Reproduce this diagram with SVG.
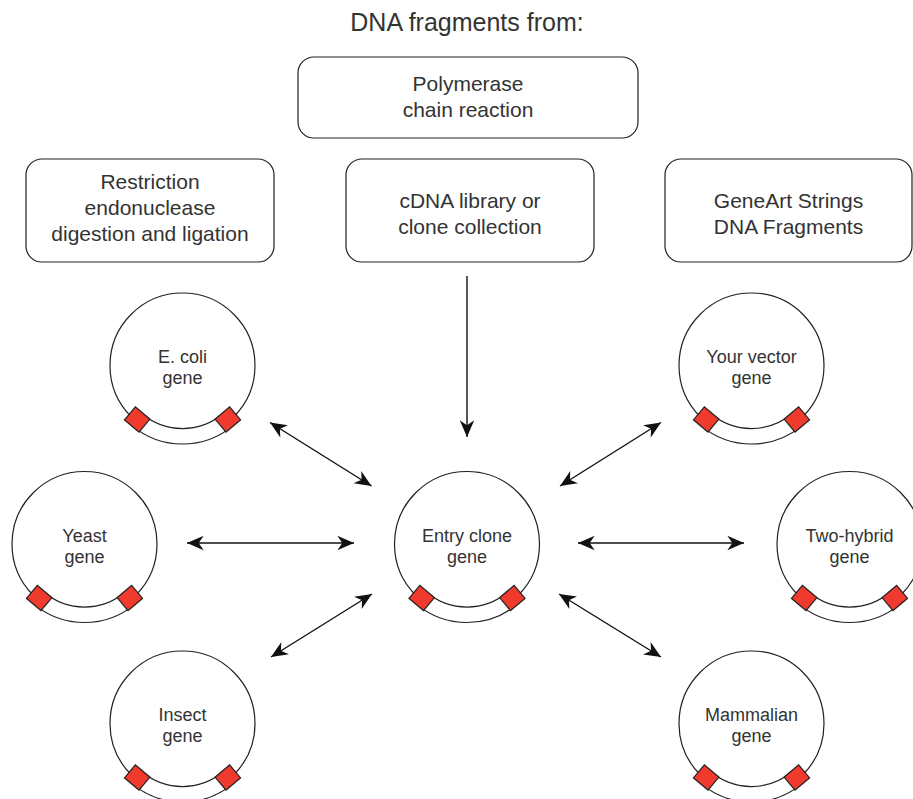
<svg xmlns="http://www.w3.org/2000/svg" xmlns:xlink="http://www.w3.org/1999/xlink" width="913" height="799" viewBox="0 0 913 799">
<style>
  text { font-family: "Liberation Sans", Arial, sans-serif; fill: #333333; text-anchor: middle; }
  .title { font-size: 25px; }
  .box-text { font-size: 21px; }
  .node-text { font-size: 18px; }
  .box { fill: #ffffff; stroke: #222222; stroke-width: 1.2; }
  .ring { fill: #ffffff; stroke: #222222; stroke-width: 1.2; }
  .band { fill: #ffffff; stroke: #222222; stroke-width: 1.2; }
  .site { fill: #ef3a2d; stroke: #222222; stroke-width: 1.2; }
  .conn { stroke: #111111; stroke-width: 1.4; fill: none; }
</style>
<defs>
  <marker id="arrow" markerUnits="userSpaceOnUse" markerWidth="20" markerHeight="20" viewBox="-16 -8 18 16" refX="0" refY="0" orient="auto-start-reverse">
    <path d="M0,0 L-15,-6.5 L-10.5,0 L-15,6.5 Z" fill="#111111"/>
  </marker>
  <g id="plasmid">
    <circle class="ring" cx="0" cy="0" r="72.5"/>
    <path class="band" d="M -40.5 48.3 A 63 63 0 0 0 40.5 48.3 L 50.5 60.1 A 78.5 78.5 0 0 1 -50.5 60.1 Z"/>
    <rect class="site" x="-9.5" y="62" width="19" height="17" transform="rotate(40)"/>
    <rect class="site" x="-9.5" y="62" width="19" height="17" transform="rotate(-40)"/>
  </g>
</defs>

<rect width="913" height="799" fill="#ffffff"/>

<text class="title" x="467" y="31">DNA fragments from:</text>

<g id="pcr">
  <rect class="box" x="298" y="57" width="340" height="81" rx="16"/>
  <text class="box-text" x="468" y="91">Polymerase</text>
  <text class="box-text" x="468" y="117">chain reaction</text>
</g>

<g id="restriction">
  <rect class="box" x="26" y="159" width="248" height="103" rx="16"/>
  <text class="box-text" x="150" y="189">Restriction</text>
  <text class="box-text" x="150" y="215">endonuclease</text>
  <text class="box-text" x="150" y="241">digestion and ligation</text>
</g>

<g id="cdna">
  <rect class="box" x="346" y="159" width="248" height="103" rx="16"/>
  <text class="box-text" x="470" y="208">cDNA library or</text>
  <text class="box-text" x="470" y="234">clone collection</text>
</g>

<g id="geneart">
  <rect class="box" x="665" y="159" width="247" height="103" rx="16"/>
  <text class="box-text" x="788.5" y="208">GeneArt Strings</text>
  <text class="box-text" x="788.5" y="234">DNA Fragments</text>
</g>

<g id="ecoli">
  <use xlink:href="#plasmid" href="#plasmid" transform="translate(182.5,365.5)"/>
  <text class="node-text" x="182.5" y="363">E. coli</text>
  <text class="node-text" x="182.5" y="384">gene</text>
</g>

<g id="yeast">
  <use xlink:href="#plasmid" href="#plasmid" transform="translate(84.5,544)"/>
  <text class="node-text" x="84.5" y="541.5">Yeast</text>
  <text class="node-text" x="84.5" y="562.5">gene</text>
</g>

<g id="insect">
  <use xlink:href="#plasmid" href="#plasmid" transform="translate(182.5,723.5)"/>
  <text class="node-text" x="182.5" y="721">Insect</text>
  <text class="node-text" x="182.5" y="742">gene</text>
</g>

<g id="entry">
  <use xlink:href="#plasmid" href="#plasmid" transform="translate(467,544)"/>
  <text class="node-text" x="467" y="541.5">Entry clone</text>
  <text class="node-text" x="467" y="562.5">gene</text>
</g>

<g id="yourvector">
  <use xlink:href="#plasmid" href="#plasmid" transform="translate(751.5,365.5)"/>
  <text class="node-text" x="751.5" y="363">Your vector</text>
  <text class="node-text" x="751.5" y="384">gene</text>
</g>

<g id="twohybrid">
  <use xlink:href="#plasmid" href="#plasmid" transform="translate(849.5,544)"/>
  <text class="node-text" x="849.5" y="541.5">Two-hybrid</text>
  <text class="node-text" x="849.5" y="562.5">gene</text>
</g>

<g id="mammalian">
  <use xlink:href="#plasmid" href="#plasmid" transform="translate(751.5,723.5)"/>
  <text class="node-text" x="751.5" y="721">Mammalian</text>
  <text class="node-text" x="751.5" y="742">gene</text>
</g>

<g id="connectors">
  <line class="conn" x1="467" y1="276" x2="467" y2="437" marker-end="url(#arrow)"/>
  <line class="conn" x1="270" y1="422.5" x2="371.5" y2="486" marker-start="url(#arrow)" marker-end="url(#arrow)"/>
  <line class="conn" x1="187" y1="543" x2="354" y2="543" marker-start="url(#arrow)" marker-end="url(#arrow)"/>
  <line class="conn" x1="271" y1="657" x2="372" y2="594" marker-start="url(#arrow)" marker-end="url(#arrow)"/>
  <line class="conn" x1="661" y1="422.5" x2="560" y2="486" marker-start="url(#arrow)" marker-end="url(#arrow)"/>
  <line class="conn" x1="578" y1="543" x2="744" y2="543" marker-start="url(#arrow)" marker-end="url(#arrow)"/>
  <line class="conn" x1="559" y1="594" x2="661" y2="657" marker-start="url(#arrow)" marker-end="url(#arrow)"/>
</g>
</svg>
